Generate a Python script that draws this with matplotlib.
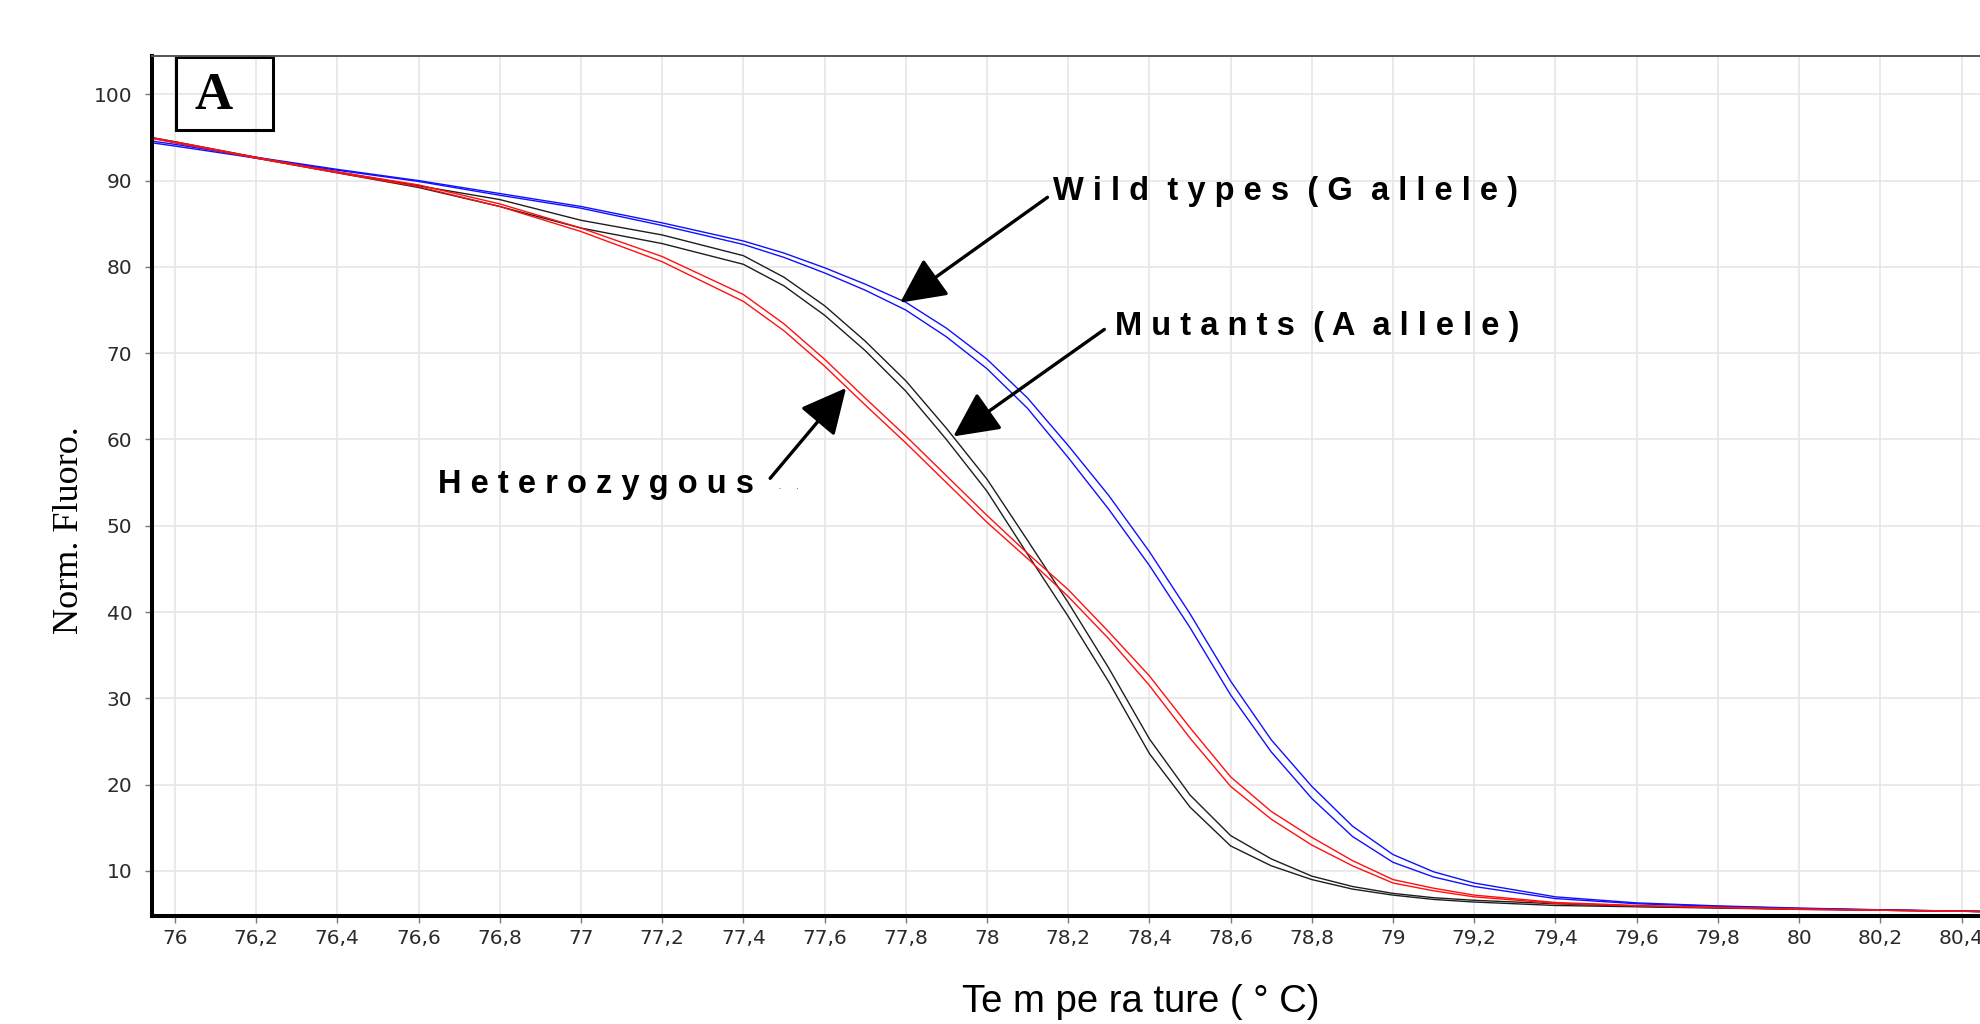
import matplotlib
matplotlib.use('Agg')
import matplotlib.pyplot as plt
from matplotlib.patches import Rectangle

# temperature grid (°C)
temp = [75.94, 76.0, 76.2, 76.4, 76.6, 76.8, 77.0, 77.2, 77.4, 77.5, 77.6, 77.7, 77.8, 77.9,
        78.0, 78.1, 78.2, 78.3, 78.4, 78.5, 78.6, 78.7, 78.8, 78.9, 79.0, 79.1, 79.2,
        79.4, 79.6, 79.8, 80.0, 80.2, 80.45]

# wild types (G allele), two replicates - blue
wt_1 = [94.6, 94.2, 92.7, 91.3, 90.0, 88.5, 87.0, 85.1, 83.0, 81.6, 79.9, 78.0, 75.9, 72.9,
        69.3, 64.8, 59.3, 53.5, 47.0, 39.8, 32.0, 25.2, 19.8, 15.2, 11.9, 9.9, 8.6,
        7.0, 6.3, 5.95, 5.7, 5.5, 5.3]
wt_2 = [94.4, 94.0, 92.6, 91.2, 89.9, 88.3, 86.8, 84.8, 82.6, 81.1, 79.3, 77.3, 75.0, 71.9,
        68.2, 63.6, 57.9, 51.9, 45.4, 38.2, 30.4, 23.8, 18.4, 14.0, 11.0, 9.3, 8.2,
        6.8, 6.2, 5.9, 5.65, 5.45, 5.3]

# mutants (A allele), two replicates - black
mut_1 = [95.0, 94.5, 92.7, 91.0, 89.4, 87.8, 85.4, 83.7, 81.3, 78.8, 75.5, 71.4, 66.8, 61.3,
         55.4, 48.3, 41.1, 33.5, 25.3, 18.8, 14.1, 11.4, 9.4, 8.2, 7.4, 6.9, 6.6,
         6.2, 5.9, 5.75, 5.6, 5.5, 5.3]
mut_2 = [95.0, 94.4, 92.6, 90.9, 89.2, 87.0, 84.5, 82.7, 80.3, 77.8, 74.4, 70.3, 65.6, 60.0,
         54.0, 46.7, 39.5, 31.9, 23.6, 17.4, 12.9, 10.6, 9.0, 7.9, 7.2, 6.7, 6.4,
         6.0, 5.85, 5.7, 5.55, 5.45, 5.3]

# heterozygous, two replicates - red
het_1 = [95.0, 94.5, 92.7, 91.0, 89.5, 87.3, 84.5, 81.2, 76.8, 73.4, 69.3, 64.8, 60.4, 55.8,
         51.2, 46.8, 42.6, 37.7, 32.6, 26.6, 20.9, 16.9, 13.9, 11.2, 9.0, 8.0, 7.2,
         6.35, 6.0, 5.8, 5.6, 5.45, 5.3]
het_2 = [94.9, 94.4, 92.6, 90.9, 89.3, 87.0, 84.1, 80.6, 76.0, 72.6, 68.5, 64.0, 59.6, 55.0,
         50.4, 46.2, 41.8, 36.9, 31.5, 25.4, 19.8, 16.0, 13.0, 10.6, 8.6, 7.7, 7.0,
         6.25, 5.95, 5.75, 5.55, 5.45, 5.3]

x_ticks = [76.0, 76.2, 76.4, 76.6, 76.8, 77.0, 77.2, 77.4, 77.6, 77.8, 78.0, 78.2,
           78.4, 78.6, 78.8, 79.0, 79.2, 79.4, 79.6, 79.8, 80.0, 80.2, 80.4]
x_tick_labels = ['76', '76,2', '76,4', '76,6', '76,8', '77', '77,2', '77,4', '77,6', '77,8',
                 '78', '78,2', '78,4', '78,6', '78,8', '79', '79,2', '79,4', '79,6', '79,8',
                 '80', '80,2', '80,4']
y_ticks = [10, 20, 30, 40, 50, 60, 70, 80, 90, 100]

fig = plt.figure(figsize=(19.81, 10.24), dpi=100)
ax = fig.add_axes([0.0766, 0.1058, 0.9234, 0.8398])

# curves: black first, then blue, red on top
for y in (mut_1, mut_2):
    ax.plot(temp, y, color='#1e1e1e', lw=1.0)
for y in (wt_1, wt_2):
    ax.plot(temp, y, color='#1010ff', lw=1.0)
for y in (het_1, het_2):
    ax.plot(temp, y, color='#ff1010', lw=1.0)

ax.set_xlim(75.943, 80.448)
ax.set_ylim(4.82, 104.47)
ax.set_xticks(x_ticks)
ax.set_xticklabels(x_tick_labels)
ax.set_yticks(y_ticks)
ax.grid(True, color='#e6e6e6', lw=1.2)
ax.set_axisbelow(True)

ax.spines['left'].set_linewidth(2.9)
ax.spines['left'].set_color('black')
ax.spines['bottom'].set_linewidth(2.9)
ax.spines['bottom'].set_color('black')
ax.spines['top'].set_linewidth(1.4)
ax.spines['top'].set_color('#555555')
ax.spines['right'].set_visible(False)

ax.tick_params(axis='both', direction='out', length=5, width=1, color='#777777',
               labelcolor='#2a2a2a', labelsize=14.5)
ax.tick_params(axis='y', pad=9)
ax.tick_params(axis='x', pad=4.5)

# axis titles
fig.text(0.0395, 0.4824, 'Norm. Fluoro.', rotation=90, rotation_mode='anchor',
         ha='center', va='baseline', family='Liberation Serif', fontsize=26)
fig.text(0.5757, 0.012, 'Te m pe ra ture ( ° C)', ha='center', va='baseline',
         family='Liberation Sans', fontsize=27.5)

# panel letter
ax.add_patch(Rectangle((0.0131, 0.9136), 0.0534, 0.0852, transform=ax.transAxes,
                       fill=False, lw=2.2, ec='black', clip_on=False))
ax.text(0.0337, 0.938, 'A', transform=ax.transAxes, ha='center', va='baseline',
        family='Liberation Serif', fontweight='bold', fontsize=38)

# genotype labels with arrows
arrow = dict(arrowstyle='-|>,head_length=0.85,head_width=0.42', mutation_scale=33,
             lw=2.4, color='black', shrinkA=0, shrinkB=0)
ax.annotate('', xy=(77.786, 75.85), xytext=(78.149, 88.06), arrowprops=arrow)
ax.annotate('', xy=(77.917, 60.35), xytext=(78.289, 72.75), arrowprops=arrow)
ax.annotate('', xy=(77.653, 65.97), xytext=(77.466, 55.5), arrowprops=arrow)

lab = dict(family='Liberation Sans', fontweight='bold', fontsize=23.5, va='baseline')
ax.text(78.163, 87.76, 'W i l d  t y p e s  ( G  a l l e l e )', **lab)
ax.text(78.315, 72.1, 'M u t a n t s  ( A  a l l e l e )', **lab)
ax.text(76.648, 53.77, 'H e t e r o z y g o u s', **lab)
ax.text(77.485, 54.3, '.    .', fontsize=8, color='#666666', va='baseline')

fig.savefig('out.png', dpi=100)
